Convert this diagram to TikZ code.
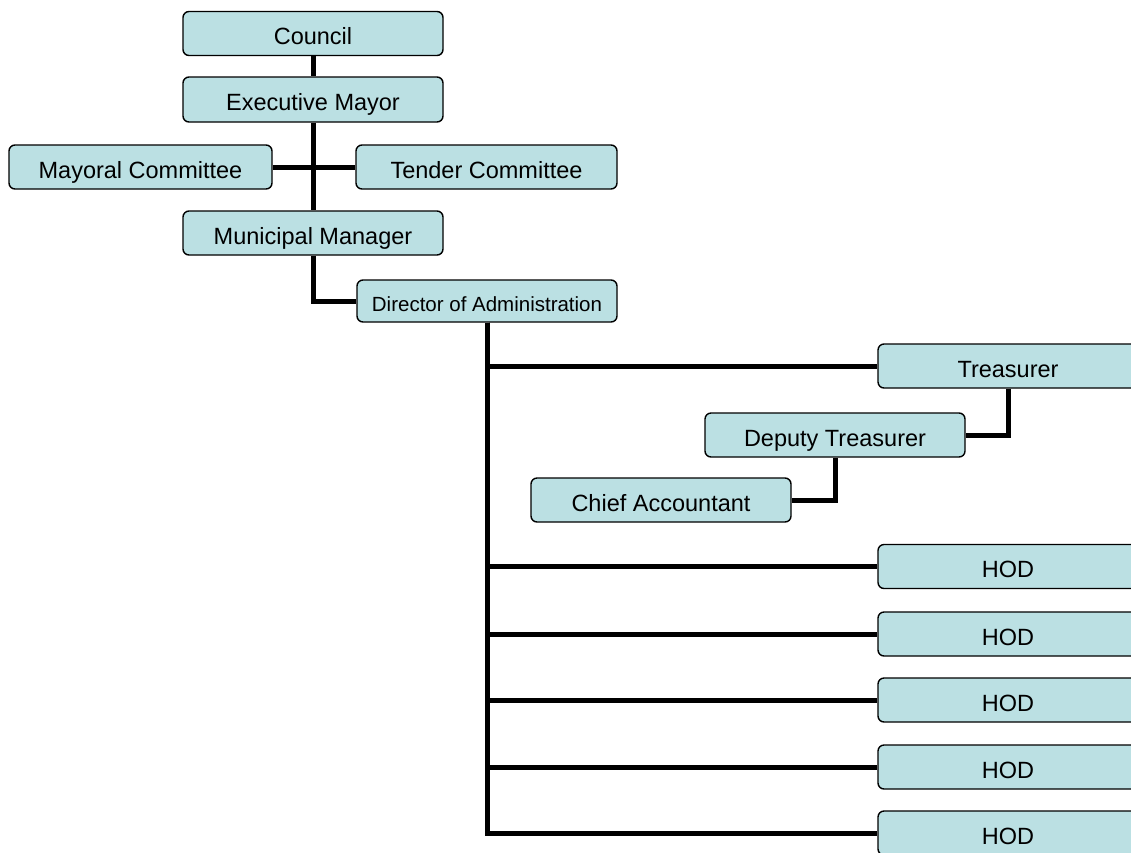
\documentclass[tikz,border=0pt]{standalone}
\usepackage{fontspec}
\setmainfont{Liberation Sans}
\definecolor{boxfill}{RGB}{187,224,227}
\begin{document}
\begin{tikzpicture}[x=1pt,y=-1pt,
  orgbox/.style={draw=black, line width=1.4pt, fill=boxfill, rounded corners=6pt,
    minimum width=260pt, minimum height=44pt, inner sep=0pt,
    text height=22pt, text depth=0pt,
    font=\fontsize{23.5}{26}\selectfont},
  smallbox/.style={orgbox, minimum height=42pt, text height=20pt, font=\fontsize{20.5}{24}\selectfont},
  link/.style={line width=5pt, line join=miter, line cap=butt}]
\useasboundingbox (0,0) rectangle (1131,852);
\clip (0,0) rectangle (1131,852);
\fill[white] (0,0) rectangle (1131,852);
% nodes
\node[orgbox] (council) at (313,33.5) {Council};
\node[orgbox, minimum height=45pt] (exec) at (313,99.5) {Executive Mayor};
\node[orgbox, minimum width=263pt] (mayoral) at (140.5,167) {Mayoral Committee};
\node[orgbox, minimum width=261pt] (tender) at (486.5,167) {Tender Committee};
\node[orgbox] (mm) at (313,233) {Municipal Manager};
\node[smallbox] (dir) at (487,301) {Director of Administration};
\node[orgbox] (tre) at (1008,366) {Treasurer};
\node[orgbox] (dep) at (835,435) {Deputy Treasurer};
\node[orgbox] (ca) at (661,500) {Chief Accountant};
\node[orgbox] (hod1) at (1008,566.5) {HOD};
\node[orgbox] (hod2) at (1008,634) {HOD};
\node[orgbox] (hod3) at (1008,700) {HOD};
\node[orgbox] (hod4) at (1008,767) {HOD};
\node[orgbox] (hod5) at (1008,833) {HOD};
% connectors between named nodes
\draw[link] (council.south) -- (exec.north);
\draw[link] (exec.south) -- (mm.north);
\draw[link] (mayoral.east) -- (tender.west);
\draw[link] (mm.south) |- (dir.west);
\draw[link] (dir.south) |- (tre.west);
\draw[link] (dir.south) |- (hod1.west);
\draw[link] (dir.south) |- (hod2.west);
\draw[link] (dir.south) |- (hod3.west);
\draw[link] (dir.south) |- (hod4.west);
\draw[link] (dir.south) |- (hod5.west);
\draw[link] (tre.south) |- (dep.east);
\draw[link] (dep.south) |- (ca.east);
\end{tikzpicture}
\end{document}
